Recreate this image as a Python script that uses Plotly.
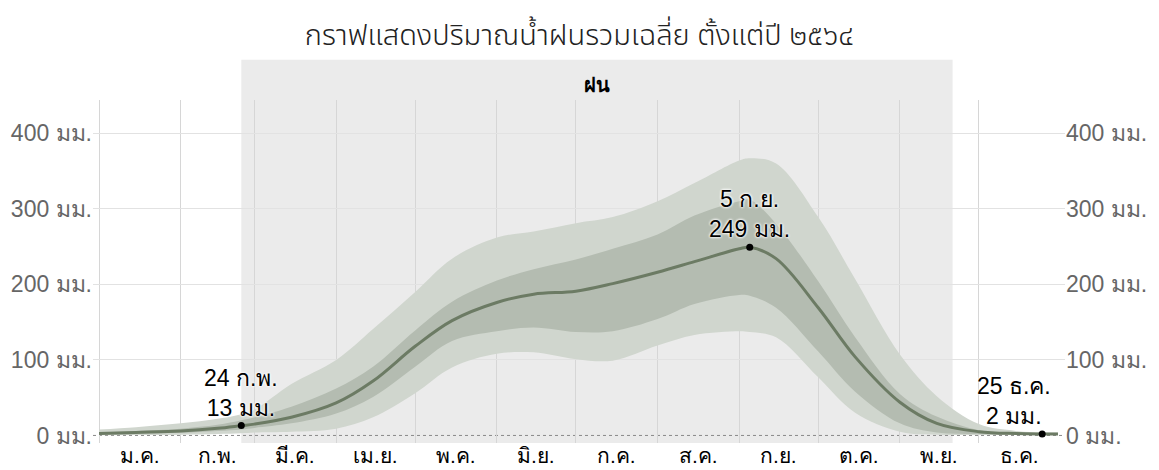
import plotly.graph_objects as go
import pandas as pd

# ---- data ----
dates = ["2021-01-01", "2021-01-15", "2021-02-01", "2021-02-15", "2021-02-24", "2021-03-01",
         "2021-03-15", "2021-04-01", "2021-04-15", "2021-05-01", "2021-05-15", "2021-06-01",
         "2021-06-15", "2021-07-01", "2021-07-15", "2021-08-01", "2021-08-15", "2021-09-01",
         "2021-09-05", "2021-09-15", "2021-10-01", "2021-10-15", "2021-11-01", "2021-11-15",
         "2021-12-01", "2021-12-15", "2021-12-25", "2021-12-31"]
mean_mm = [2.5, 4, 6, 9.5, 13, 15, 24, 43, 72, 118, 152, 176, 187, 191, 201, 216, 230, 247,
           249, 234, 169, 104, 44, 16, 5, 2.5, 2, 2]
outer_hi = [8, 11, 16, 22, 28, 34, 68, 100, 141, 190, 234, 262, 270, 281, 289, 310, 334, 364,
            367, 360, 289, 207, 107, 52, 15, 6, 4, 4]
inner_hi = [4, 6, 9, 14, 20, 24, 38, 62, 91, 139, 177, 205, 220, 233, 247, 266, 291, 310,
            312, 280, 204, 130, 55, 25, 7, 3, 2.5, 2.5]
inner_lo = [1, 2, 3.5, 6, 8, 10, 16, 29, 51, 91, 125, 138, 143, 137, 138, 154, 174, 186,
            185, 169, 111, 58, 16, 4, 2, 1.5, 1.5, 1.5]
outer_lo = [0.3, 0.5, 1, 2, 3, 4, 5, 9, 24, 56, 90, 108, 110, 101, 99, 119, 133, 138,
            137, 130, 77, 30, 5, 1, 0.5, 0.5, 0.5, 0.5]

hl_dates = ["2021-02-24", "2021-09-05", "2021-12-25"]
hl_vals = [13, 249, 2]
hl_labels = ["24 ก.พ.", "5 ก.ย.", "25 ธ.ค."]
hl_xshift = [0, 0, -28]

month_starts = ["2021-01-01", "2021-02-01", "2021-03-01", "2021-04-01", "2021-05-01", "2021-06-01",
                "2021-07-01", "2021-08-01", "2021-09-01", "2021-10-01", "2021-11-01", "2021-12-01"]
month_mids = ["2021-01-16 12:00", "2021-02-15", "2021-03-16 12:00", "2021-04-16", "2021-05-16 12:00",
              "2021-06-16", "2021-07-16 12:00", "2021-08-16 12:00", "2021-09-16", "2021-10-16 12:00",
              "2021-11-16", "2021-12-16 12:00"]
month_labels = ["ม.ค.", "ก.พ.", "มี.ค.", "เม.ย.", "พ.ค.", "มิ.ย.", "ก.ค.", "ส.ค.", "ก.ย.",
                "ต.ค.", "พ.ย.", "ธ.ค."]

y_ticks = [0, 100, 200, 300, 400]
y_labels = ["0 มม.", "100 มม.", "200 มม.", "300 มม.", "400 มม."]

season_start = "2021-02-24"
season_end = "2021-11-21"
season_label = "ฝน"
title_text = "กราฟแสดงปริมาณน้ำฝนรวมเฉลี่ย ตั้งแต่ปี ๒๕๖๔"

OUTER = "#d0d6ce"
INNER = "#b4bcb1"
LINE = "#6c7b64"
FONT = "Liberation Sans, Arial, sans-serif"
TITLE_FONT = "Noto Sans Thai, sans-serif"

fig = go.Figure()
fig.add_trace(go.Scatter(x=dates, y=outer_hi, mode="lines", line=dict(width=0, shape="spline"),
                         hoverinfo="skip", showlegend=False))
fig.add_trace(go.Scatter(x=dates, y=outer_lo, mode="lines", line=dict(width=0, shape="spline"),
                         fill="tonexty", fillcolor=OUTER, hoverinfo="skip", showlegend=False))
fig.add_trace(go.Scatter(x=dates, y=inner_hi, mode="lines", line=dict(width=0, shape="spline"),
                         hoverinfo="skip", showlegend=False))
fig.add_trace(go.Scatter(x=dates, y=inner_lo, mode="lines", line=dict(width=0, shape="spline"),
                         fill="tonexty", fillcolor=INNER, hoverinfo="skip", showlegend=False))
fig.add_trace(go.Scatter(x=dates, y=mean_mm, mode="lines", line=dict(width=3, color=LINE, shape="spline"),
                         showlegend=False))
fig.add_trace(go.Scatter(x=hl_dates, y=hl_vals, mode="markers", marker=dict(size=7, color="black"),
                         showlegend=False))
# invisible trace to carry the right-hand axis
fig.add_trace(go.Scatter(x=dates, y=mean_mm, mode="lines", line=dict(width=0), opacity=0,
                         yaxis="y2", hoverinfo="skip", showlegend=False))

for d, v, lab, xs in zip(hl_dates, hl_vals, hl_labels, hl_xshift):
    fig.add_annotation(x=d, y=v, text=f"{lab}<br>{v} มม.", showarrow=False, yanchor="bottom",
                       xanchor="center", yshift=3, xshift=xs,
                       font=dict(size=23, color="black", family=FONT,
                                 shadow="0 0 3px white, 0 0 3px white, 0 0 2px white"))

# month labels below the plot, centred on each month
for m, lab in zip(month_mids, month_labels):
    fig.add_annotation(x=m, xref="x", yref="paper", y=0, yanchor="middle", yshift=-12,
                       showarrow=False, text=lab, font=dict(size=21, color="black", family=FONT))

# rainy season band
fig.add_shape(type="rect", xref="x", yref="paper", x0=season_start, x1=season_end, y0=0, y1=1.117,
              fillcolor="#ebebeb", line=dict(width=0), layer="below")
mid = pd.Timestamp(season_start) + (pd.Timestamp(season_end) - pd.Timestamp(season_start)) / 2
fig.add_annotation(x=mid, xref="x", yref="paper", y=1.045, yanchor="middle", showarrow=False,
                   text=f"<b>{season_label}</b>", font=dict(size=20, color="black", family=FONT))
# dotted zero line
fig.add_shape(type="line", xref="paper", yref="y", x0=0, x1=1, y0=0, y1=0,
              line=dict(color="#888888", width=1, dash="dot"), layer="below")

yaxis_common = dict(range=[-10, 444], tickvals=y_ticks, ticktext=y_labels, showgrid=False,
                    zeroline=False, showline=False, ticks="", automargin=False,
                    tickfont=dict(size=23, color="#666666", family=FONT),
                    minor=dict(tickvals=y_ticks[1:], showgrid=True, gridcolor="#e2e2e2", gridwidth=1))

fig.update_layout(
    width=1159, height=470,
    margin=dict(l=93, r=94, t=100, b=27, autoexpand=False),
    paper_bgcolor="white", plot_bgcolor="rgba(0,0,0,0)",
    title=dict(text=title_text, x=0.5, xanchor="center", y=0.925, yanchor="middle",
               font=dict(size=29, color="#222222", family=TITLE_FONT, weight=300)),
    xaxis=dict(type="date", range=["2020-12-29 17:00", "2022-01-02 16:00"], automargin=False,
               tickvals=month_mids, showticklabels=False, showgrid=False, zeroline=False,
               showline=False, ticks="",
               minor=dict(tickvals=month_starts, showgrid=True, gridcolor="#d6d6d6", gridwidth=1)),
    yaxis=yaxis_common,
    yaxis2=dict(overlaying="y", side="right", **yaxis_common),
)

fig.write_html("out.html", post_script="document.body.style.margin='0';",
               config={"displayModeBar": False})
